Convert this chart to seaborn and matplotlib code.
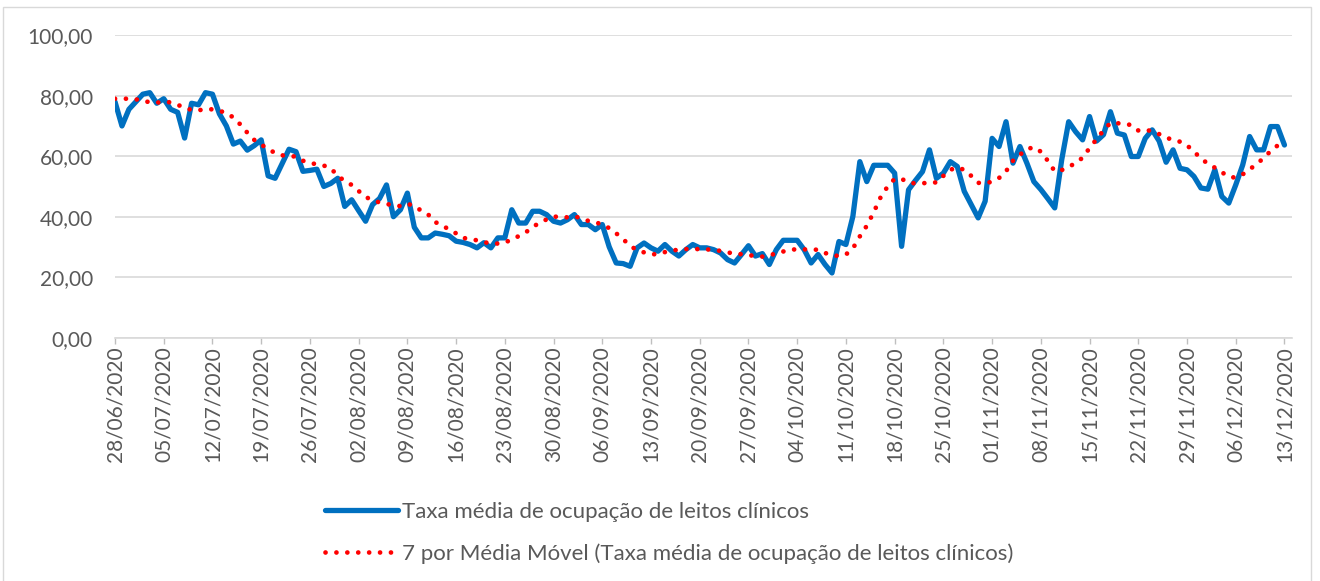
import matplotlib
matplotlib.use("Agg")
import numpy as np
import pandas as pd
import matplotlib.pyplot as plt
import seaborn as sns
from matplotlib.lines import Line2D
from matplotlib.patches import Rectangle

# daily series, 28/06/2020 -> 13/12/2020
data_inicio = "2020-06-28"

ocupacao = [
    78, 70, 75.5, 78, 80.5, 81, 77.5, 79, 75.5, 74.5,
    66, 77.5, 77, 81, 80.5, 74, 70, 64, 65, 62,
    63.5, 65.4, 53.5, 52.7, 57.5, 62.3, 61.5, 55, 55.3, 55.7,
    50, 51, 52.7, 43.4, 45.6, 42, 38.5, 44, 46, 50.5,
    40, 42.3, 47.8, 36.5, 33, 33, 34.6, 34.2, 33.7, 31.9,
    31.5, 30.8, 29.7, 31.4, 29.7, 33, 33, 42.3, 37.9, 37.9,
    41.8, 41.8, 40.7, 38.5, 37.9, 39, 40.7, 37.4, 37.4, 35.7,
    37.4, 30, 24.7, 24.5, 23.6, 29.7, 31.3, 29.7, 28.6, 30.8,
    28.6, 27, 29.1, 30.8, 29.7, 29.7, 29.1, 28, 25.8, 24.7,
    27.5, 30.4, 27, 27.8, 24.2, 29.1, 32.2, 32.2, 32.2, 29.1,
    24.7, 27.5, 24.2, 21.4, 31.8, 30.8, 40.1, 58.2, 51.6, 57,
    57, 57, 54.4, 30.2, 48.9, 52, 54.9, 62.1, 52.7, 54.4,
    58.2, 56.6, 48.4, 44, 39.6, 45.1, 65.9, 63.2, 71.4, 57.7,
    63.2, 57.7, 51.6, 49, 46, 42.9, 58.8, 71.4, 68.1, 65.4,
    73.1, 65, 67.1, 74.7, 67.6, 67, 59.9, 59.9, 65.9, 68.7,
    65, 58, 62.1, 56, 55.5, 53.3, 49.5, 49.1, 55.5, 46.7,
    44.5, 50.5, 57.1, 66.5, 62.1, 62.1, 69.8, 69.8, 63.7,
]

media_movel = [
    79, 79, 79, 78.8, 78.4, 77.8, 77.7, 78, 77.8, 77,
    76, 75.3, 75.2, 75.5, 75.5, 75, 74.3, 72.8, 70.5, 67.8,
    65.4, 63.8, 62.5, 61, 60.3, 60, 59.9, 58.5, 57.8, 57.3,
    56.9, 56, 53.5, 51.8, 50.5, 48.5, 46.5, 45.5, 44.7, 44.2,
    43.8, 43.5, 44.3, 43.5, 42, 40.7, 38.2, 37.2, 35.7, 34.5,
    33, 32.6, 32.2, 31.5, 31.3, 31.1, 31.5, 32.4, 33.6, 34.8,
    36.6, 38, 39.1, 40.1, 39.8, 39.8, 40.1, 39.5, 38.6, 38.1,
    37.5, 36.2, 34.5, 32.6, 30.3, 29, 28.2, 27.5, 27.7, 28.3,
    28.8, 29.1, 29.3, 29.3, 29.3, 29.2, 29, 28.7, 28.2, 27.8,
    27.6, 27.3, 27, 26.8, 27.2, 27.9, 28.5, 29, 29.3, 29.2,
    29.1, 29.1, 28, 27.3, 27, 27.5, 29.5, 33.5, 37, 41.5,
    46.5, 50, 52.5, 52.5, 51.3, 51, 51, 51.4, 51.3, 53.5,
    55.5, 56.3, 55.5, 53.5, 51.2, 51, 51.6, 52.8, 55, 58.5,
    60.5, 62.3, 63, 61.5, 58.5, 55, 55.4, 56.5, 57.7, 59.5,
    62.7, 65.6, 68.5, 71, 70.9, 70.7, 70.3, 68.5, 68.8, 68.2,
    67.3, 66.2, 65.3, 64.8, 63.6, 61.5, 59.3, 57.5, 56.2, 54.7,
    53.2, 52.9, 54, 55.6, 57.5, 59.3, 61.7, 63.5, 65.6,
]

y_ticks = [0, 20, 40, 60, 80, 100]
nome_serie = "Taxa média de ocupação de leitos clínicos"
nome_media = "7 por Média Móvel (Taxa média de ocupação de leitos clínicos)"

dias = pd.date_range(data_inicio, periods=len(ocupacao), freq="D")
df = pd.DataFrame({"data": dias, "ocupacao": ocupacao, "media_movel": media_movel})

AZUL = "#0070C0"
VERMELHO = "#FF0000"
CINZA_TXT = "#595959"
CINZA_GRID = "#D9D9D9"

sns.set_theme(style="white")
plt.rcParams["font.family"] = ["Lato", "DejaVu Sans"]

W, H = 1320, 581
fig = plt.figure(figsize=(W / 100, H / 100), dpi=100)
ax = fig.add_axes([115 / W, (H - 337.7) / H, 1177 / W, (337.7 - 35.2) / H])

sns.lineplot(data=df, x="data", y="ocupacao", ax=ax, color=AZUL, linewidth=3.8,
             solid_joinstyle="round", solid_capstyle="round", legend=False, zorder=3)
sns.lineplot(data=df, x="data", y="media_movel", ax=ax, color=VERMELHO, linewidth=3.4,
             legend=False, zorder=4)
linha_media = ax.lines[-1]
linha_media.set_linestyle((0, (0.01, 2.3)))
linha_media.set_dash_capstyle("round")

ax.set_ylim(0, 100)
ax.set_xlim(dias[0], dias[-1] + pd.Timedelta(hours=26))
ax.set_yticks(y_ticks)
ax.set_yticklabels([f"{v:.2f}".replace(".", ",") for v in y_ticks])
ax.yaxis.grid(True, color=CINZA_GRID, linewidth=1.2)
ax.xaxis.grid(False)
ax.set_axisbelow(True)

semanas = dias[::7]
ax.set_xticks(semanas)
ax.set_xticklabels([d.strftime("%d/%m/%Y") for d in semanas], rotation=90,
                   ha="center", va="top")
ax.tick_params(axis="x", length=4, width=1, color="#BFBFBF", pad=2,
               labelsize=15, labelcolor=CINZA_TXT, bottom=True)
ax.tick_params(axis="y", length=0, pad=16, labelsize=15, labelcolor=CINZA_TXT)
ax.set_xlabel("")
ax.set_ylabel("")

for lado in ["top", "right", "left"]:
    ax.spines[lado].set_visible(False)
ax.spines["bottom"].set_color(CINZA_GRID)
ax.spines["bottom"].set_linewidth(1.2)

handles = [
    Line2D([], [], color=AZUL, linewidth=3.8, solid_capstyle="round"),
    Line2D([], [], color=VERMELHO, linewidth=3.4, linestyle=(0, (0.01, 2.3)),
           dash_capstyle="round"),
]
fig.legend(handles, [nome_serie, nome_media], loc="upper left",
           bbox_to_anchor=(325 / W, (H - 502) / H), frameon=False,
           fontsize=16, labelcolor=CINZA_TXT, handlelength=3.3,
           handletextpad=0.15, labelspacing=0.95, borderpad=0, borderaxespad=0)

# chart area frame
fig.patches.append(Rectangle((3 / W, -0.05), 1308 / W, (H - 7) / H + 0.05,
                             transform=fig.transFigure, fill=False,
                             edgecolor=CINZA_GRID, linewidth=1))

fig.savefig("out.png", dpi=100)
